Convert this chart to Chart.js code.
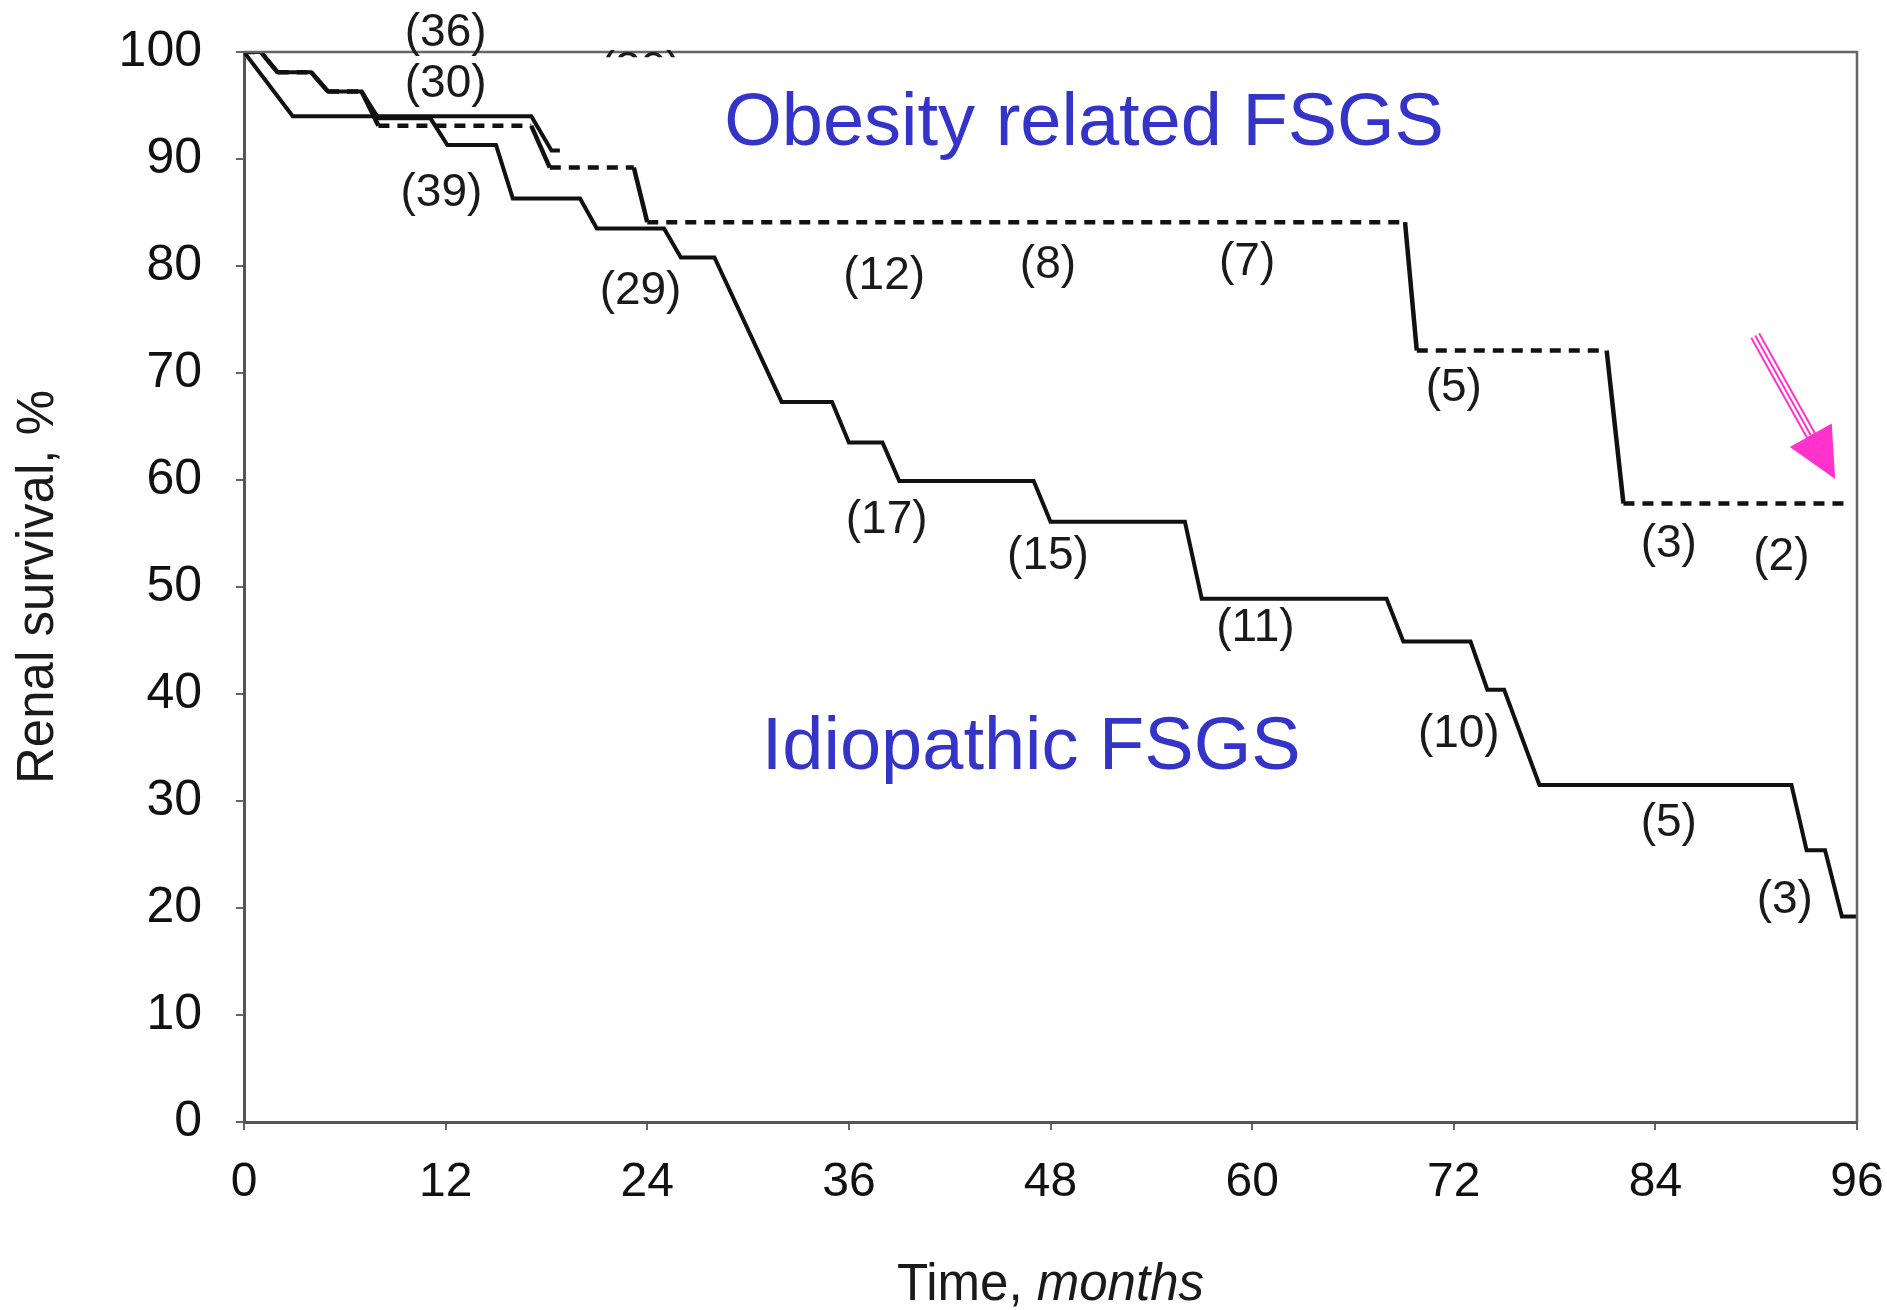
<!DOCTYPE html>
<html>
<head>
<meta charset="utf-8">
<script src="https://cdn.jsdelivr.net/npm/chart.js@4.4.1/dist/chart.umd.min.js"></script>
<style>
  html, body { margin: 0; padding: 0; background: #fff; }
  #wrap { width: 1887px; height: 1310px; position: relative; }
</style>
</head>
<body>
<div id="wrap"><canvas id="km"></canvas></div>
<script>
// survival curves (months, % surviving)
var idioMonths = [0, 1, 2, 4, 5, 7, 8, 11.1, 12.1, 15, 16, 20, 21, 25, 26, 28, 32, 35, 36, 38, 39, 47, 48, 56, 57, 68, 69, 73, 74, 75, 77.1, 92.1, 93, 94.1, 95.1, 96];
var idioSurvival = [100, 100, 98.1, 98.1, 96.3, 96.3, 93.8, 93.8, 91.3, 91.3, 86.3, 86.3, 83.5, 83.5, 80.8, 80.8, 67.3, 67.3, 63.5, 63.5, 59.9, 59.9, 56.1, 56.1, 48.9, 48.9, 44.9, 44.9, 40.4, 40.4, 31.5, 31.5, 25.4, 25.4, 19.2, 19.2];

var obeseMonths = [0, 1, 2, 4, 5, 7, 8, 17.1, 18.2, 23.2, 24, 69.1, 69.8, 81.1, 82.1, 95.6];
var obeseSurvival = [100, 100, 98.1, 98.1, 96.3, 96.3, 93.1, 93.1, 89.2, 89.2, 84.1, 84.1, 72.1, 72.1, 57.8, 57.8];

// solid start of the obesity curve as printed
var obeseEarlyMonths = [0, 2.9, 17.1, 18.3, 18.8];
var obeseEarlySurvival = [100, 94, 94, 90.8, 90.8];

var xTicks = [0, 12, 24, 36, 48, 60, 72, 84, 96];
var yTicks = [0, 10, 20, 30, 40, 50, 60, 70, 80, 90, 100];

// numbers at risk
var riskText = ['(36)', '(30)', '(39)', '(29)', '(12)', '(8)', '(7)', '(5)', '(3)', '(2)', '(17)', '(15)', '(11)', '(10)', '(5)', '(3)'];
var riskX = [12.0, 12.0, 11.75, 23.6, 38.1, 47.85, 59.7, 72.0, 84.8, 91.5, 38.25, 47.85, 60.2, 72.3, 84.8, 91.7];
var riskY = [101.7, 97.0, 86.8, 77.6, 79.0, 80.1, 80.3, 68.6, 54.0, 52.8, 56.2, 52.9, 46.1, 36.2, 27.9, 20.7];

var FONT = '"Liberation Sans", Arial, sans-serif';

function pts(xs, ys) {
    return xs.map(function (m, i) { return { x: m, y: ys[i] }; });
}

// keep the plot box where the printed one is
function noOverflow(s) {
    s.paddingLeft = 0; s.paddingRight = 0; s.paddingTop = 0; s.paddingBottom = 0;
}

var decor = {
    id: 'decor',
    afterDraw: function (chart) {
        var c = chart.ctx, a = chart.chartArea;
        var xs = chart.scales.x, ys = chart.scales.y;
        c.save();

        // box top and right
        c.strokeStyle = '#666';
        c.lineWidth = 2.5;
        c.beginPath();
        c.moveTo(a.left, a.top);
        c.lineTo(a.right, a.top);
        c.lineTo(a.right, a.bottom);
        c.stroke();

        // at risk numbers
        c.fillStyle = '#1a1a1a';
        c.font = '46px ' + FONT;
        c.textAlign = 'center';
        c.textBaseline = 'middle';
        riskText.forEach(function (t, i) {
            c.fillText(t, xs.getPixelForValue(riskX[i]), ys.getPixelForValue(riskY[i]));
        });
        // the half hidden one under the title
        c.save();
        c.beginPath();
        c.rect(0, 0, chart.width, ys.getPixelForValue(99.5));
        c.clip();
        c.fillText('(30)', xs.getPixelForValue(23.6), ys.getPixelForValue(98.2));
        c.restore();

        // curve names
        c.fillStyle = '#3434c8';
        c.font = '74px ' + FONT;
        c.textBaseline = 'alphabetic';
        c.fillText('Obesity related FSGS', xs.getPixelForValue(50.0), ys.getPixelForValue(91.3));
        c.fillText('Idiopathic FSGS', xs.getPixelForValue(46.85), ys.getPixelForValue(33.0));

        // arrow
        var x0 = xs.getPixelForValue(89.94), y0 = ys.getPixelForValue(73.5);
        var x1 = xs.getPixelForValue(94.7), y1 = ys.getPixelForValue(60.1);
        var dx = x1 - x0, dy = y1 - y0, len = Math.sqrt(dx * dx + dy * dy);
        var ux = dx / len, uy = dy / len;
        var hl = 50, hw = 24;
        var bx = x1 - ux * hl, by = y1 - uy * hl;
        c.lineCap = 'butt';
        c.strokeStyle = '#ff33cc'; c.lineWidth = 11;
        c.beginPath(); c.moveTo(x0, y0); c.lineTo(bx + ux * 4, by + uy * 4); c.stroke();
        c.strokeStyle = '#fff'; c.lineWidth = 7;
        c.beginPath(); c.moveTo(x0 - ux * 2, y0 - uy * 2); c.lineTo(bx, by); c.stroke();
        c.strokeStyle = '#ff33cc'; c.lineWidth = 2;
        c.beginPath(); c.moveTo(x0, y0); c.lineTo(bx, by); c.stroke();
        c.fillStyle = '#ff33cc';
        c.beginPath();
        c.moveTo(x1, y1);
        c.lineTo(bx - uy * hw, by + ux * hw);
        c.lineTo(bx + uy * hw, by - ux * hw);
        c.closePath();
        c.fill();

        // axis titles
        c.fillStyle = '#1a1a1a';
        c.font = '51px ' + FONT;
        c.textAlign = 'center';
        c.save();
        c.translate(a.left - 191, (a.top + a.bottom) / 2);
        c.rotate(-Math.PI / 2);
        c.fillText('Renal survival, %', 0, 0);
        c.restore();

        c.font = '51px ' + FONT;
        var w1 = c.measureText('Time, ').width;
        c.font = 'italic 51px ' + FONT;
        var w2 = c.measureText('months').width;
        var sx = (a.left + a.right) / 2 - (w1 + w2) / 2;
        c.textAlign = 'left';
        c.font = '51px ' + FONT;
        c.fillText('Time, ', sx, a.bottom + 178);
        c.font = 'italic 51px ' + FONT;
        c.fillText('months', sx + w1, a.bottom + 178);

        c.restore();
    }
};

var ctx = document.getElementById('km');
var kmChart = new Chart(ctx, {
    type: 'line',
    data: {
        datasets: [{
            data: pts(idioMonths, idioSurvival),
            borderColor: '#111',
            borderWidth: 4
        }, {
            data: pts(obeseEarlyMonths, obeseEarlySurvival),
            borderColor: '#111',
            borderWidth: 4
        }, {
            data: pts(obeseMonths, obeseSurvival),
            borderColor: '#111',
            borderWidth: 4.5,
            borderDash: [11, 8],
            segment: {
                // drops print as solid strokes
                borderDash: function (s) { return s.p0.parsed.y !== s.p1.parsed.y ? [] : [11, 8]; }
            }
        }]
    },
    options: {
        responsive: true,
        maintainAspectRatio: false,
        animation: false,
        layout: { padding: { top: 52, right: 30, left: 0, bottom: 0 } },
        elements: { point: { radius: 0 }, line: { tension: 0, fill: false } },
        plugins: { legend: { display: false }, tooltip: { enabled: false } },
        scales: {
            x: {
                type: 'linear',
                min: 0,
                max: 96,
                afterBuildTicks: function (s) { s.ticks = xTicks.map(function (v) { return { value: v }; }); },
                afterFit: function (s) { s.height = 188; noOverflow(s); },
                ticks: { font: { size: 48, family: FONT }, color: '#111', padding: 24, maxRotation: 0 },
                grid: { display: true, drawOnChartArea: false, drawTicks: true, tickLength: 8, color: '#666', lineWidth: 2 },
                border: { display: true, color: '#555', width: 3 }
            },
            y: {
                min: 0,
                max: 100,
                afterBuildTicks: function (s) { s.ticks = yTicks.map(function (v) { return { value: v }; }); },
                afterFit: function (s) { s.width = 244; noOverflow(s); },
                ticks: { font: { size: 50, family: FONT }, color: '#111', padding: 34 },
                grid: { display: true, drawOnChartArea: false, drawTicks: true, tickLength: 8, color: '#666', lineWidth: 2 },
                border: { display: true, color: '#555', width: 3 }
            }
        }
    },
    plugins: [decor]
});
</script>
</body>
</html>
